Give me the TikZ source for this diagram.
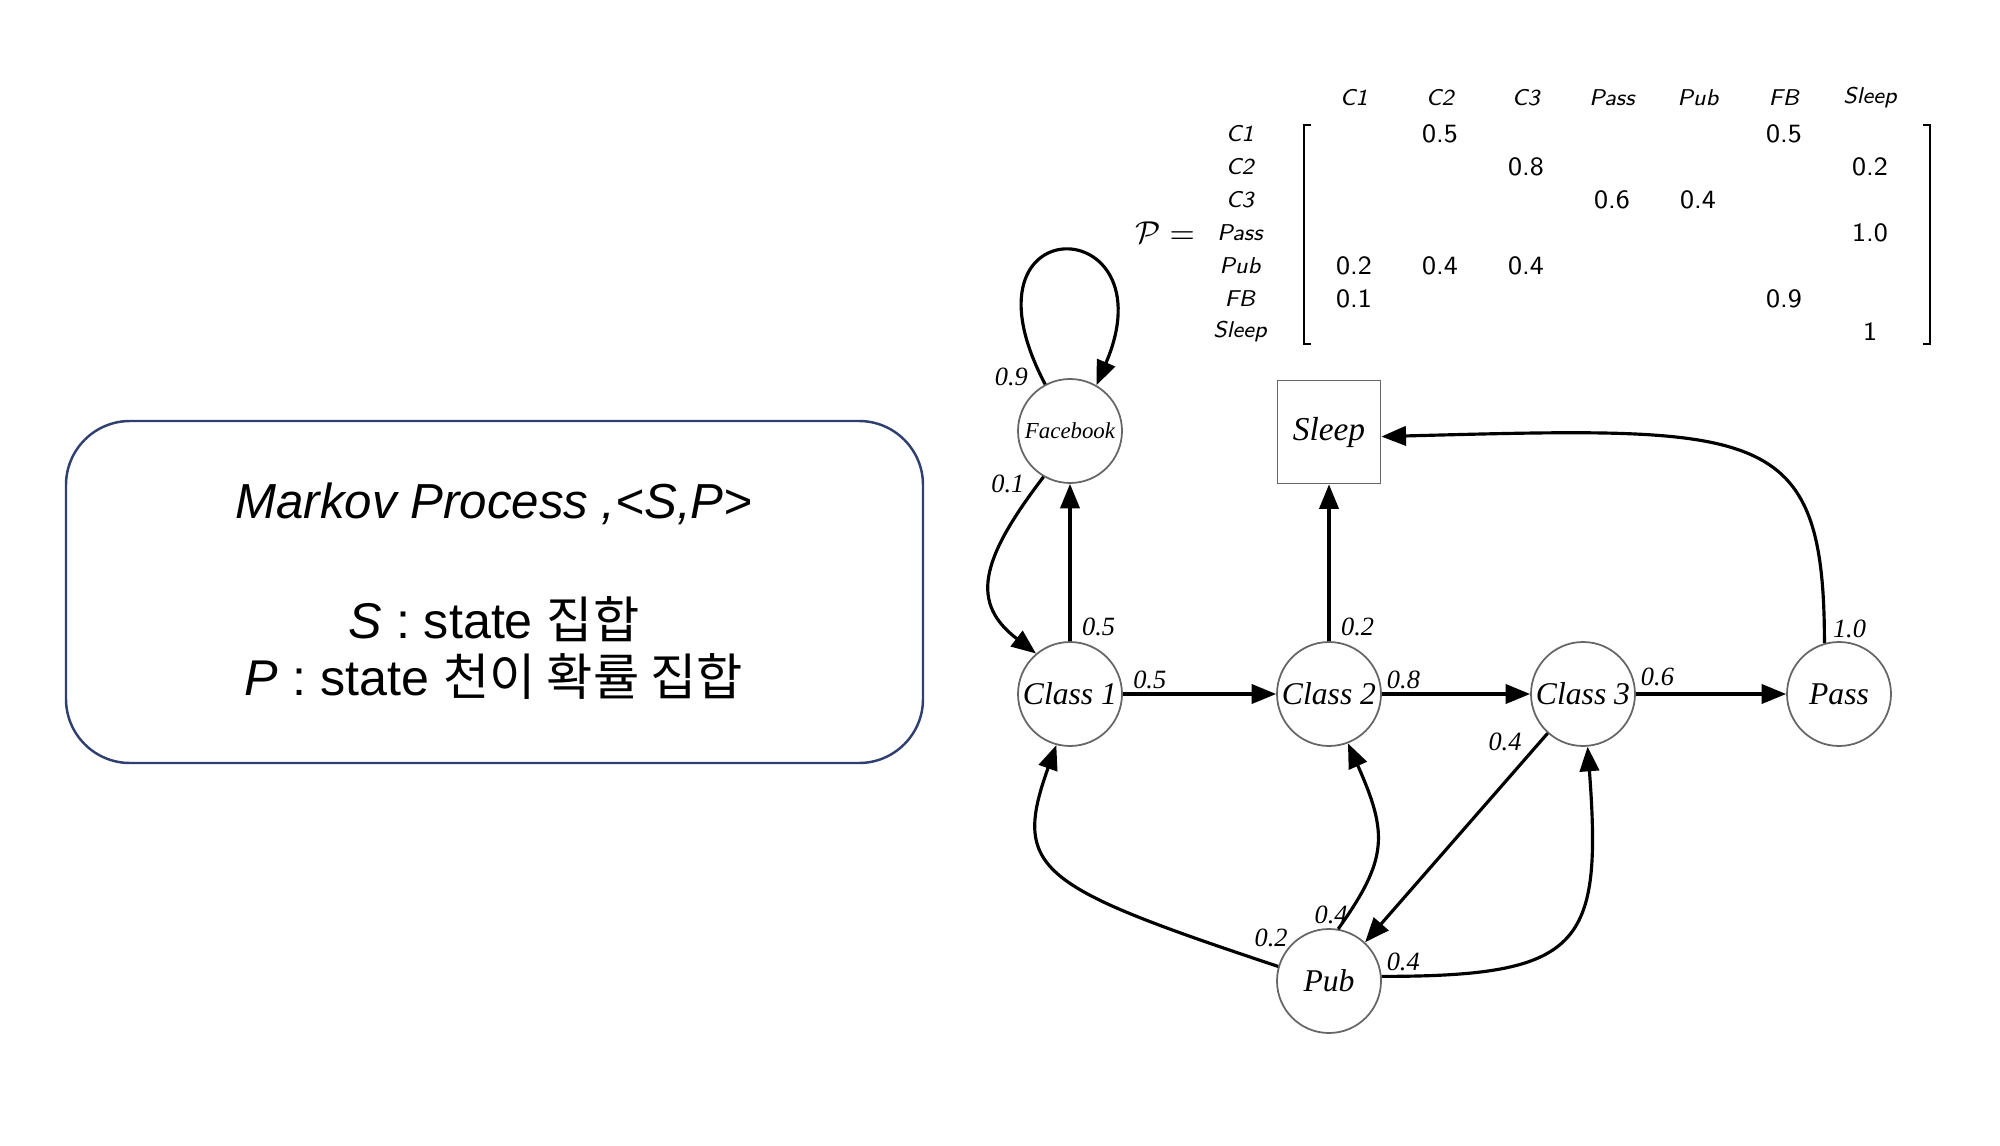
\documentclass[tikz,border=0pt]{standalone}
\usepackage{fontspec}
\setmainfont{Liberation Serif}
\newfontfamily\arial{Liberation Sans}
\newfontfamily\kor{Noto Sans CJK KR}
\usepackage{tkz-euclide}
\usetikzlibrary{arrows.meta}
\definecolor{navy}{RGB}{47,64,112}

\begin{document}
\begin{tikzpicture}[
	stnode/.style={circle,draw=black!60,line width=.5pt,minimum size=1.04cm,inner sep=0pt,font=\fontsize{9}{10}\selectfont\itshape},
	endbox/.style={rectangle,draw=black!60,line width=.5pt,minimum size=1.03cm,inner sep=0pt,font=\fontsize{9.5}{10}\selectfont\itshape},
	trans/.style={-{Triangle[length=7pt,width=5.5pt]},line width=.9pt},
	prob/.style={font=\fontsize{7.5}{8}\selectfont\itshape,inner sep=1pt},
	mlab/.style={font=\fontsize{6.5}{7}\selectfont\sffamily\itshape,inner sep=0pt},
	mval/.style={font=\fontsize{7.5}{8}\selectfont\sffamily,inner sep=0pt}]
	\useasboundingbox (0,0) rectangle (20,11.45);

	% summary box
	\node[draw=navy,line width=.7pt,rounded corners=.64cm,minimum width=8.57cm,minimum height=3.42cm] (mpbox) at (4.945,5.53) {};
	\node[font=\arial\fontsize{14}{16}\selectfont\itshape] (title) at (4.94,6.41) {Markov Process ,<S,P>};
	\begin{scope}[font=\arial\fontsize{14.3}{16}\selectfont]
		\node (sdef) at (4.94,5.26) {{\itshape S} : state {\kor 집합}};
		\node (pdef) at (4.94,4.69) {{\itshape P} : state {\kor 천이 확률 집합}};
	\end{scope}

	% transition matrix
	\node[font=\fontsize{9}{10}\selectfont] (peq) at (11.65,9.12) {$\mathcal{P} =$};
	\foreach \name [count=\i] in {C1,C2,C3,Pass,Pub,FB,Sleep}{
		\node[mlab] (col\i) at ({13.54+(\i-1)*0.86},10.47) {\name};
		\node[mlab] (row\i) at (12.40,{10.11-(\i-1)*0.33}) {\name};
	}
	\foreach \r/\c/\v in {1/2/0.5,1/6/0.5,2/3/0.8,2/7/0.2,3/4/0.6,3/5/0.4,4/7/1.0,
		5/1/0.2,5/2/0.4,5/3/0.4,6/1/0.1,6/6/0.9,7/7/1}
		\node[mval] (p\r\c) at ({13.54+(\c-1)*0.86},{10.11-(\r-1)*0.33}) {\v};
	\draw[line width=.6pt] (13.11,10.20) -- (13.04,10.20) -- (13.04,8.01) -- (13.11,8.01);
	\draw[line width=.6pt] (19.23,10.20) -- (19.30,10.20) -- (19.30,8.01) -- (19.23,8.01);

	% states
	\tkzDefPoints{10.70/7.14/FB,13.29/7.13/SL,10.70/4.51/C1,13.29/4.51/C2,15.83/4.51/C3,18.39/4.51/PS,13.29/1.64/PB}
%	\tkzDrawPoints[color=black,size=2pt](FB,SL,C1,C2,C3,PS,PB)
	\node[stnode,font=\fontsize{6.5}{7}\selectfont\itshape] (fb) at (FB) {Facebook};
	\node[endbox] (sleep) at (SL) {Sleep};
	\node[stnode] (c1) at (C1) {Class 1};
	\node[stnode] (c2) at (C2) {Class 2};
	\node[stnode] (c3) at (C3) {Class 3};
	\node[stnode] (pass) at (PS) {Pass};
	\node[stnode] (pub) at (PB) {Pub};

	% transitions
	\draw[trans] (fb.118) .. controls +(-0.95,1.8) and +(0.75,1.75) .. (fb.60)
		node[prob,pos=0,left,xshift=-3.5pt,yshift=2pt] {0.9};
	\draw[trans] (fb.240) .. controls +(-0.65,-0.85) and +(-0.65,0.5) .. (c1.130)
		node[prob,pos=0,left,xshift=-4pt,yshift=-2pt] {0.1};
	\draw[trans] (c1) -- node[prob,pos=0,above right,xshift=2pt] {0.5} (fb);
	\draw[trans] (c1) -- node[prob,pos=0,above right,xshift=1.5pt] {0.5} (c2);
	\draw[trans] (c2) -- node[prob,pos=0,above right,xshift=2pt] {0.2} (sleep);
	\draw[trans] (c2) -- node[prob,pos=0,above right] {0.8} (c3);
	\draw[trans] (c3) -- node[prob,pos=0,above right,yshift=1pt] {0.6} (pass);
	\draw[trans] (c3.228) -- node[prob,pos=0,left,xshift=-6pt,yshift=-2.5pt] {0.4} (pub.47);
	\draw[trans] (pass.106) .. controls +(0,2.2) and +(3.8,0.1) .. (sleep.-5)
		node[prob,pos=0,above right,xshift=1pt] {1.0};
	\draw[trans] (pub.164) .. controls +(-2.4,0.8) and +(-0.45,-1.25) .. (c1.255)
		node[prob,pos=0,above,xshift=-2pt,yshift=4pt] {0.2};
	\draw[trans] (pub.80) .. controls +(0.5,0.7) and +(0.4,-0.9) .. (c2.291)
		node[prob,pos=0,above,xshift=-2pt] {0.4};
	\draw[trans] (pub.5) .. controls +(2.0,0) and +(0.15,-2.0) .. (c3.275)
		node[prob,pos=0,above right] {0.4};
\end{tikzpicture}
\end{document}
